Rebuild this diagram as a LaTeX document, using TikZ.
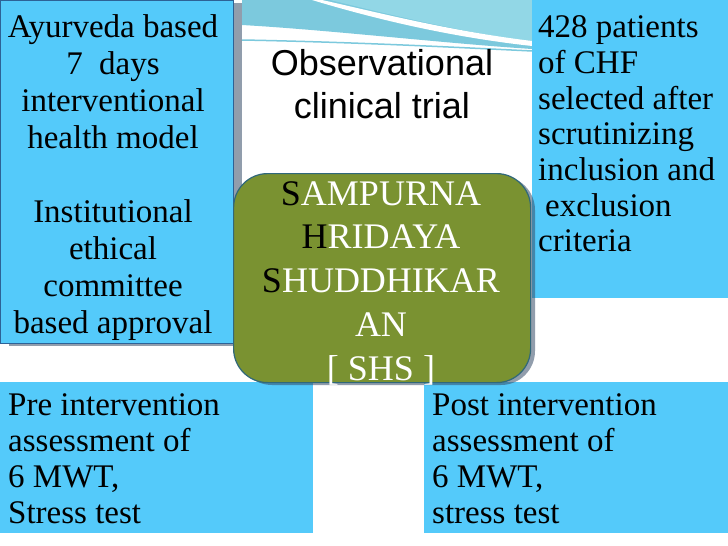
\documentclass[tikz,border=0pt]{standalone}
\usepackage{fontspec}
\setmainfont{Liberation Serif}
\newfontfamily\arialfont{Liberation Sans}
\usepackage{tikz}
\usetikzlibrary{positioning}

\definecolor{skyblue}{RGB}{84,202,250}
\definecolor{olivebox}{RGB}{122,146,49}
\definecolor{olivedraw}{RGB}{48,104,122}
\definecolor{leftdraw}{RGB}{45,98,150}
\definecolor{bandteal}{RGB}{124,201,221}
\definecolor{bandlight}{RGB}{146,215,230}
\definecolor{shadowtone}{RGB}{55,78,104}

\begin{document}
\begin{tikzpicture}[x=1pt, y=-1pt,
    every node/.style={inner sep=0pt},
    panel/.style={rectangle, fill=skyblue, draw=none, anchor=north west},
    shadowfill/.style={fill=shadowtone, opacity=0.55},
    bodytext/.style={font=\fontsize{33}{37}\selectfont, text=black},
    lowtext/.style={font=\fontsize{33}{36.3}\selectfont, text=black, align=left, anchor=north west},
    shsbox/.style={rectangle, rounded corners=34pt, fill=olivebox, draw=olivedraw,
                   line width=1.2pt, anchor=north west},
    shstext/.style={font=\fontsize{36}{43.8}\selectfont, text=white, align=center, anchor=north}
]
\useasboundingbox (0,0) rectangle (728,546);
\fill[white] (0,0) rectangle (728,546);

% --- header band ---
\fill[bandteal] (242,0) -- (532,0) -- (532,49) .. controls (440,43) and (330,30) .. (242,25) -- cycle;
\fill[bandlight] (330,0) -- (532,0) -- (532,42) .. controls (450,30) and (380,12) .. (330,0);
\fill[white] (322,0) .. controls (380,13) and (450,31) .. (532,41) -- (532,46)
  .. controls (450,37) and (375,19) .. (312,0) -- cycle;
\draw[bandteal, line width=1.5pt] (242,40) .. controls (350,42) and (450,47) .. (532,51);

% --- blue panels ---
\node[panel, minimum width=196pt, minimum height=298pt] (chfbox) at (532,0) {};
\node[panel, minimum width=313pt, minimum height=151pt] (prebox) at (0,382) {};
\node[panel, minimum width=304pt, minimum height=151pt] (postbox) at (424,382) {};

% left panel with its shadow
\fill[shadowfill] (9,3) rectangle (242,346);
\node[panel, draw=leftdraw, line width=1pt, minimum width=233pt, minimum height=343pt] (modelbox) at (0,0) {};

% --- SHS box ---
\fill[shadowfill, rounded corners=34pt] (238,176) rectangle (535,385);
\node[shsbox, minimum width=297pt, minimum height=209pt] (shs) at (233,173) {};

% --- texts ---
\node[bodytext, align=center, anchor=north] (modeltext) at (113,14.5)
  {Ayurveda based\\ 7\ \ days\\ interventional\\ health model\\[37pt]
   Institutional\\ ethical\\ committee\\ based approval};
\node[font=\arialfont\fontsize{36}{43}\selectfont, align=center, anchor=north] (trial) at (382,49)
  {Observational\\ clinical trial};
\node[bodytext, font=\fontsize{33}{35.7}\selectfont, align=left, anchor=north west] (chftext) at (538,15.5)
  {428 patients\\ of CHF\\ selected after\\ scrutinizing\\ inclusion and\\
   \hspace*{7pt}exclusion\\ criteria};
\node[shstext] (shsname) at (381,181)
  {{\color{black}S}AMPURNA\\ {\color{black}H}RIDAYA\\ {\color{black}S}HUDDHIKAR\\ AN\\ {[} SHS {]}};
\node[lowtext] (pretext) at (8,393)
  {Pre intervention\\ assessment of\\ 6 MWT,\\ Stress test};
\node[lowtext] (posttext) at (432,393)
  {Post intervention\\ assessment of\\ 6 MWT,\\ stress test};

\end{tikzpicture}
\end{document}
